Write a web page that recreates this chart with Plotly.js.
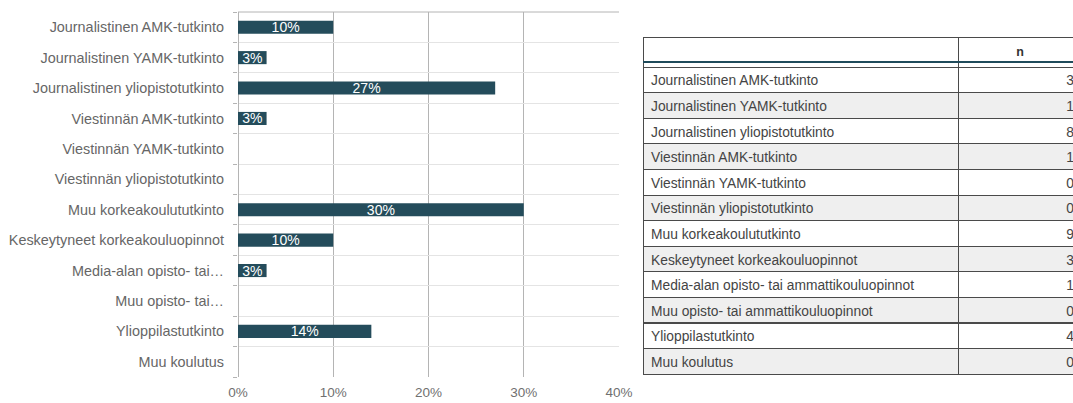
<!DOCTYPE html>
<html>
<head>
<meta charset="utf-8">
<script src="https://cdn.plot.ly/plotly-3.0.1.min.js"></script>
<style>
  html, body { margin: 0; padding: 0; overflow: hidden; background: #fff; }
  #wrap { position: relative; width: 1082px; height: 403px; }
  #chart { width: 1082px; height: 403px; }
  #hdrline { position: absolute; left: 643px; top: 61px; width: 439px; height: 2px; background: #1f4b5b; pointer-events: none; }
</style>
</head>
<body>
<div id="wrap">
  <div id="chart"></div>
  <div id="hdrline"></div>
</div>
<script>
// Data
const categories = [
  "Journalistinen AMK-tutkinto",
  "Journalistinen YAMK-tutkinto",
  "Journalistinen yliopistotutkinto",
  "Viestinnän AMK-tutkinto",
  "Viestinnän YAMK-tutkinto",
  "Viestinnän yliopistotutkinto",
  "Muu korkeakoulututkinto",
  "Keskeytyneet korkeakouluopinnot",
  "Media-alan opisto- tai ammattikouluopinnot",
  "Muu opisto- tai ammattikouluopinnot",
  "Ylioppilastutkinto",
  "Muu koulutus"
];
const axisLabels = [
  "Journalistinen AMK-tutkinto",
  "Journalistinen YAMK-tutkinto",
  "Journalistinen yliopistotutkinto",
  "Viestinnän AMK-tutkinto",
  "Viestinnän YAMK-tutkinto",
  "Viestinnän yliopistotutkinto",
  "Muu korkeakoulututkinto",
  "Keskeytyneet korkeakouluopinnot",
  "Media-alan opisto- tai…",
  "Muu opisto- tai…",
  "Ylioppilastutkinto",
  "Muu koulutus"
];
const percents = [10, 3, 27, 3, 0, 0, 30, 10, 3, 0, 14, 0];
const counts = [3, 1, 8, 1, 0, 0, 9, 3, 1, 0, 4, 0];
const xTickValues = [0, 10, 20, 30, 40];
const xTickLabels = ["0%", "10%", "20%", "30%", "40%"];
const tableHeader = ["", "<b>n</b>"];

// Layout geometry (pixels)
const W = 1082, H = 403;
const px = v => v / W;
const py = v => 1 - v / H;

const FONT = "Arial, 'Liberation Sans', sans-serif";
const barColor = "#244c5b";

const barText = percents.map(v => v > 0 ? v + "%" : "");
const rowFills = categories.map((_, i) => i % 2 === 0 ? "#ffffff" : "#efefef");

const bar = {
  type: "bar",
  orientation: "h",
  y: categories,
  x: percents,
  text: barText,
  textposition: "inside",
  insidetextanchor: "middle",
  constraintext: "none",
  textfont: { family: FONT, size: 14, color: "#ffffff" },
  marker: { color: barColor, line: { width: 0 } },
  hoverinfo: "none",
  xaxis: "x",
  yaxis: "y"
};

const table = {
  type: "table",
  domain: { x: [px(643), 1], y: [0, py(37)] },
  columnwidth: [315, 124],
  header: {
    values: tableHeader,
    align: ["left", "center"],
    height: 24.5,
    fill: { color: "#ffffff" },
    line: { color: "#4a4a4a", width: 1 },
    font: { family: FONT, size: 12.5, color: "#333333" }
  },
  cells: {
    values: [categories, counts],
    align: ["left", "right"],
    height: 25.6,
    fill: { color: [rowFills, rowFills] },
    line: { color: "#4a4a4a", width: 1 },
    font: { family: FONT, size: 13.8, color: "#444444" }
  }
};

const layout = {
  width: W,
  height: H,
  margin: { l: 0, r: 0, t: 0, b: 0, pad: 0 },
  paper_bgcolor: "#ffffff",
  plot_bgcolor: "#ffffff",
  showlegend: false,
  bargap: 0.57,
  font: { family: FONT, color: "#666666" },
  xaxis: {
    domain: [px(238), px(619)],
    range: [0, 40],
    tickvals: xTickValues,
    ticktext: xTickLabels,
    showgrid: true,
    gridcolor: "#b4b4b4",
    gridwidth: 1,
    zeroline: true,
    zerolinecolor: "#b4b4b4",
    zerolinewidth: 1,
    showline: false,
    ticks: "",
    ticklabelstandoff: 5,
    tickfont: { family: FONT, size: 13.5, color: "#707070" },
    fixedrange: true,
    automargin: false
  },
  yaxis: {
    domain: [py(377), py(12)],
    type: "category",
    autorange: false,
    range: [categories.length - 0.5, -0.5],
    tickvals: categories,
    ticktext: axisLabels,
    tickson: "boundaries",
    ticks: "outside",
    ticklen: 4,
    tickcolor: "#b4b4b4",
    showgrid: true,
    gridcolor: "#e4e4e4",
    gridwidth: 1,
    showline: false,
    ticklabelstandoff: 13,
    tickfont: { family: FONT, size: 14.4, color: "#666666" },
    fixedrange: true,
    automargin: false
  },
  shapes: [
    {
      type: "line", xref: "x domain", yref: "y domain",
      x0: 0, x1: 1, y0: 1, y1: 1,
      line: { color: "#b4b4b4", width: 1 }
    }
  ]
};

Plotly.newPlot("chart", [bar, table], layout, { displayModeBar: false, staticPlot: true });
</script>
</body>
</html>
